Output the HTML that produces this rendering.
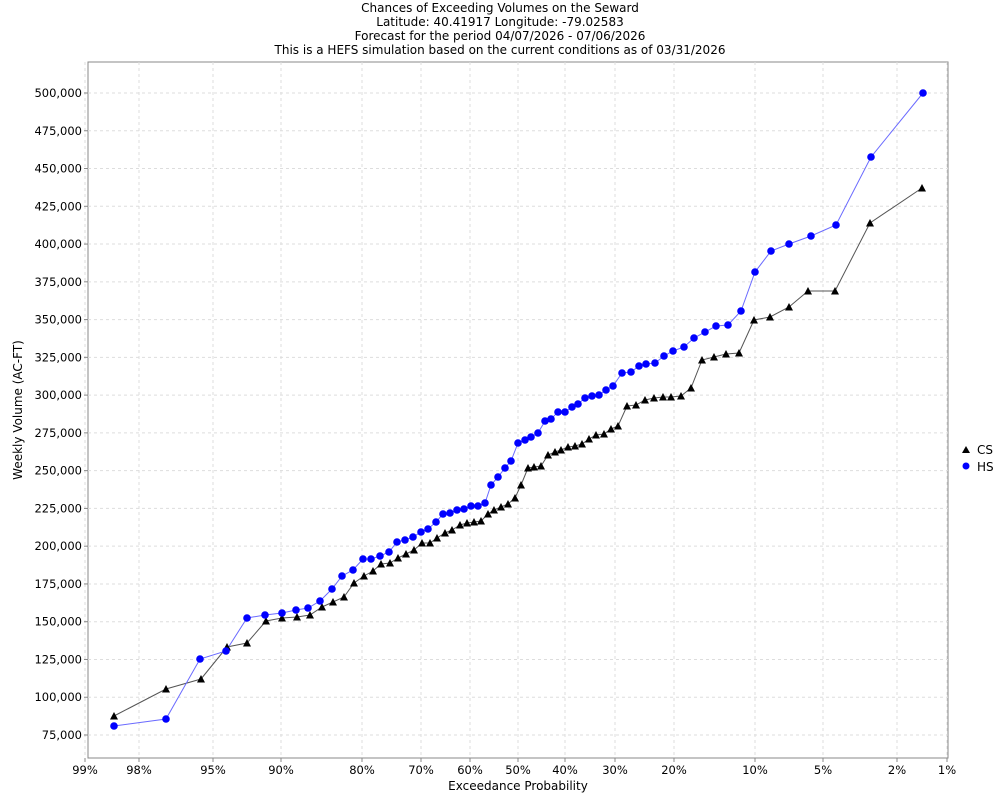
<!DOCTYPE html><html><head><style>body{margin:0;background:#fff}svg{font-family:"DejaVu Sans","Liberation Sans",sans-serif}</style></head><body>
<svg width="1000" height="800" xmlns="http://www.w3.org/2000/svg">
<rect width="1000" height="800" fill="#fff"/>
<g font-size="12" text-anchor="middle" fill="#000">
<text x="500" y="12">Chances of Exceeding Volumes on the Seward</text>
<text x="500" y="26">Latitude: 40.41917 Longitude: -79.02583</text>
<text x="500" y="40">Forecast for the period 04/07/2026 - 07/06/2026</text>
<text x="500" y="54">This is a HEFS simulation based on the current conditions as of 03/31/2026</text>
</g>
<rect x="88" y="62" width="860" height="696" fill="#fff" stroke="#888"/>
<g stroke="#ddd" stroke-dasharray="3,3" id="grid"></g>
<g id="yl" font-size="11.5" text-anchor="end"></g>
<g id="xl" font-size="11.5" text-anchor="middle"></g>
<text x="518" y="790" font-size="12" text-anchor="middle">Exceedance Probability</text>
<text transform="translate(22,410) rotate(-90)" font-size="12" text-anchor="middle">Weekly Volume (AC-FT)</text>
<polyline id="cs" fill="none" stroke="#555" stroke-width="1"/>
<polyline id="hs" fill="none" stroke="#6a6aff" stroke-width="1"/>
<g id="pts"></g>
<polygon points="962,453 966,446 970,453" fill="#000"/><text x="977" y="454" font-size="12">CS</text>
<circle cx="966" cy="466" r="3.5" fill="#00f"/><text x="977" y="471" font-size="12">HS</text>
</svg>
<script>
var ns="http://www.w3.org/2000/svg";
function el(t,a,p){var e=document.createElementNS(ns,t);for(var k in a)e.setAttribute(k,a[k]);document.getElementById(p).appendChild(e);return e}
for(var v=75000;v<=500000;v+=25000){var y=735-(v-75000)/25000*37.765;el('line',{x1:88,x2:948,y1:y,y2:y},'grid');el('line',{x1:84,x2:88,y1:y,y2:y,stroke:'#888'},'yl');var t=el('text',{x:82,y:y+4},'yl');t.textContent=v.toLocaleString('en-US');}
var xs=[[85,'99%'],[139,'98%'],[213,'95%'],[281,'90%'],[362,'80%'],[421,'70%'],[470,'60%'],[518,'50%'],[565,'40%'],[615,'30%'],[674,'20%'],[755,'10%'],[823,'5%'],[897,'2%'],[947,'1%']];
xs.forEach(function(a){el('line',{x1:a[0],x2:a[0],y1:62,y2:758},'grid');el('line',{x1:a[0],x2:a[0],y1:758,y2:762,stroke:'#888'},'xl');var t=el('text',{x:a[0],y:774},'xl');t.textContent=a[1];});
var H=[[114,726],[166,719],[200,659],[226,651],[247,618],[265,615],[282,613],[296,610],[308,608],[320,601],[332,589],[342,576],[353,570],[363,559],[371,559],[380,556],[389,552],[397,542],[405,540],[413,537],[421,532],[428,529],[436,522],[443,514],[450,513],[457,510],[464,509],[471,506],[478,506],[485,503],[491,485],[498,477],[505,468],[511,461],[518,443],[525,440],[531,437],[538,433],[545,421],[551,419],[558,412],[565,412],[572,407],[578,404],[585,398],[592,396],[599,395],[606,390],[613,386],[622,373],[631,372],[639,366],[646,364],[655,363],[664,356],[673,351],[684,347],[694,338],[705,332],[716,326],[728,325],[741,311],[755,272],[771,251],[789,244],[811,236],[836,225],[871,157],[923,93]];
var C=[[114,716],[166,689],[201,679],[227,647],[247,643],[266,621],[282,618],[297,617],[310,615],[322,607],[333,602],[344,597],[354,583],[364,576],[373,571],[381,564],[390,563],[398,558],[406,554],[414,550],[422,543],[430,543],[437,538],[445,533],[452,530],[460,525],[467,523],[474,522],[481,521],[488,514],[494,510],[501,507],[508,504],[515,498],[521,485],[528,468],[534,467],[541,466],[548,455],[555,452],[561,450],[568,447],[575,446],[582,444],[589,439],[596,435],[604,434],[611,429],[618,426],[627,406],[636,405],[645,400],[654,398],[663,397],[671,397],[681,396],[691,388],[702,360],[714,357],[726,354],[739,353],[754,320],[770,317],[789,307],[808,291],[835,291],[870,223],[922,188]];
document.getElementById('cs').setAttribute('points',C.map(function(p){return p.join(',')}).join(' '));
document.getElementById('hs').setAttribute('points',H.map(function(p){return p.join(',')}).join(' '));
C.forEach(function(p){el('polygon',{points:(p[0]-4)+','+(p[1]+3.5)+' '+p[0]+','+(p[1]-4)+' '+(p[0]+4)+','+(p[1]+3.5),fill:'#000'},'pts')});
H.forEach(function(p){el('circle',{cx:p[0],cy:p[1],r:3.8,fill:'#00f'},'pts')});
</script>
</body></html>
